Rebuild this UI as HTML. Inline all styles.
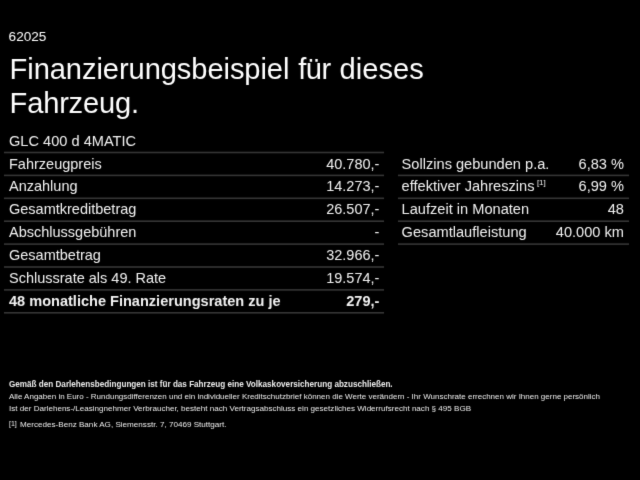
<!DOCTYPE html>
<html><head><meta charset="utf-8">
<style>
html,body{margin:0;padding:0;background:#000;}
body{width:640px;height:480px;overflow:hidden;position:relative;will-change:transform;font-family:"Liberation Sans",sans-serif;color:#fff;}
.a{position:absolute;white-space:nowrap;}
.c{font-size:14.5px;line-height:18px;color:#f2f2f2;}
.v{text-align:right;}
.b{font-weight:bold;}
sup{font-size:8px;line-height:0;position:relative;top:-6.3px;vertical-align:baseline;margin-left:2.4px;}
.f{position:absolute;left:9px;font-size:8px;line-height:10px;white-space:nowrap;color:#eee;}
svg{position:absolute;left:0;top:0;}
#w{position:absolute;left:0;top:0;width:640px;height:480px;background:#000;filter:url(#sf);}
</style></head><body><svg width="0" height="0" style="position:absolute"><filter id="sf" x="0" y="0" width="640" height="480" filterUnits="userSpaceOnUse" color-interpolation-filters="sRGB"><feConvolveMatrix order="3" kernelMatrix="0.01 0.08 0.01 0.08 0.64 0.08 0.01 0.08 0.01" preserveAlpha="true"/></filter></svg><div id="w">
<div class="a" style="left:8.6px;top:27.5px;font-size:13.6px;line-height:18px;">62025</div>
<div class="a" style="left:9.6px;top:52px;font-size:29.1px;line-height:34px;letter-spacing:-0.08px">Finanzierungsbeispiel</div><div class="a" style="left:298.2px;top:52px;font-size:29.1px;line-height:34px;letter-spacing:-0.5px">für</div><div class="a" style="left:339.6px;top:52px;font-size:29.1px;line-height:34px;">dieses</div><div class="a" style="left:9.6px;top:86px;font-size:29.1px;line-height:34px;letter-spacing:-0.2px">Fahrzeug.</div>
<div class="a c" style="left:9.00px;top:131.58px;font-size:14.6px">GLC 400 d 4MATIC</div>
<svg width="640" height="480"><rect x="4" y="151.70" width="380" height="1.6" fill="#363636"/><rect x="4" y="174.60" width="380" height="1.6" fill="#363636"/><rect x="4" y="197.50" width="380" height="1.6" fill="#363636"/><rect x="4" y="220.40" width="380" height="1.6" fill="#363636"/><rect x="4" y="243.30" width="380" height="1.6" fill="#363636"/><rect x="4" y="266.20" width="380" height="1.6" fill="#363636"/><rect x="4" y="289.10" width="380" height="1.6" fill="#363636"/><rect x="4" y="312.00" width="380" height="1.6" fill="#363636"/><rect x="398" y="174.60" width="231" height="1.6" fill="#363636"/><rect x="398" y="197.50" width="231" height="1.6" fill="#363636"/><rect x="398" y="220.40" width="231" height="1.6" fill="#363636"/><rect x="398" y="243.30" width="231" height="1.6" fill="#363636"/></svg>
<div class="a c" style="left:9.00px;top:154.58px">Fahrzeugpreis</div><div class="a c v" style="right:260.60px;top:154.58px">40.780,-</div>
<div class="a c" style="left:9.00px;top:177.48px">Anzahlung</div><div class="a c v" style="right:260.60px;top:177.48px">14.273,-</div>
<div class="a c" style="left:9.00px;top:200.38px">Gesamtkreditbetrag</div><div class="a c v" style="right:260.60px;top:200.38px">26.507,-</div>
<div class="a c" style="left:9.00px;top:223.28px">Abschlussgebühren</div><div class="a c v" style="right:260.60px;top:223.28px">-</div>
<div class="a c" style="left:9.00px;top:246.18px">Gesamtbetrag</div><div class="a c v" style="right:260.60px;top:246.18px">32.966,-</div>
<div class="a c" style="left:9.00px;top:269.08px">Schlussrate als 49. Rate</div><div class="a c v" style="right:260.60px;top:269.08px">19.574,-</div>
<div class="a c b" style="left:9.00px;top:291.98px;font-size:14.55px">48 monatliche Finanzierungsraten zu je</div><div class="a c b v" style="right:260.60px;top:291.98px;font-size:14.55px">279,-</div>
<div class="a c" style="left:401.60px;top:154.58px;font-size:14.62px">Sollzins gebunden p.a.</div><div class="a c v" style="right:16.00px;top:154.58px;font-size:14.62px">6,83 %</div>
<div class="a c" style="left:401.60px;top:177.48px;font-size:14.62px">effektiver Jahreszins<sup>[1]</sup></div><div class="a c v" style="right:16.00px;top:177.48px;font-size:14.62px">6,99 %</div>
<div class="a c" style="left:401.60px;top:200.38px;font-size:14.62px">Laufzeit in Monaten</div><div class="a c v" style="right:16.00px;top:200.38px;font-size:14.62px">48</div>
<div class="a c" style="left:401.60px;top:223.28px;font-size:14.62px">Gesamtlaufleistung</div><div class="a c v" style="right:16.00px;top:223.28px;font-size:14.62px">40.000 km</div>
<div class="f b" style="top:379.5px;font-size:8.15px">Gemäß den Darlehensbedingungen ist für das Fahrzeug eine Volkaskoversicherung abzuschließen.</div>
<div class="f" style="top:391.8px">Alle Angaben in Euro - Rundungsdifferenzen und ein individueller Kreditschutzbrief können die Werte verändern - Ihr Wunschrate errechnen wir Ihnen gerne persönlich</div>
<div class="f" style="top:404px;font-size:8.07px">Ist der Darlehens-/Leasingnehmer Verbraucher, besteht nach Vertragsabschluss ein gesetzliches Widerrufsrecht nach § 495 BGB</div>
<div class="f" style="top:419.5px;font-size:8.1px"><span style="font-size:7px;margin-right:1px;position:relative;top:-0.8px">[1]</span> Mercedes-Benz Bank AG, Siemensstr. 7, 70469 Stuttgart.</div>
</div></body></html>
